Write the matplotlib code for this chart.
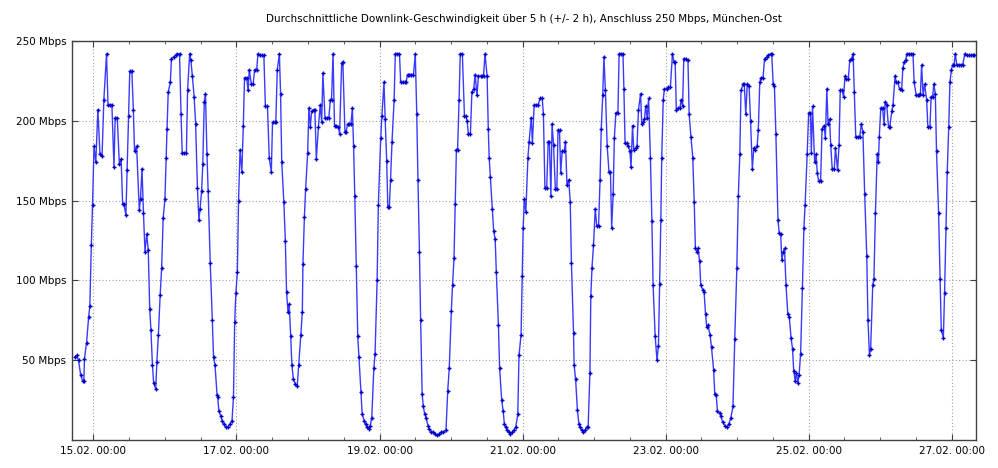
import numpy as np
import matplotlib
matplotlib.use("Agg")
from matplotlib import pyplot as plt
from matplotlib.ticker import MultipleLocator, FixedLocator

# hours since 15.02. 00:00
hours = [
    -6.3, -5.6, -5.0, -4.3, -3.6, -3.2, -3.0, -2.3, -1.6, -1.2, -0.7, -0.3, 0.2, 0.8, 1.5, 2.2, 2.9, 3.5, 4.4, 4.9,
    5.5, 6.2, 6.9, 7.3, 8.0, 8.7, 9.3, 9.8, 10.2, 10.9, 11.3, 11.8, 12.2, 12.9, 13.4, 13.8, 14.5, 15.4, 15.8, 16.3,
    16.8, 17.3, 17.9, 18.4, 18.9, 19.3, 19.8, 20.2, 20.9, 21.3, 21.8, 22.4, 22.9, 23.4, 24.0, 24.4, 24.7, 25.1, 25.8, 26.2,
    26.9, 27.6, 28.2, 28.9, 29.4, 29.8, 30.5, 31.2, 31.6, 32.3, 32.7, 33.2, 33.8, 34.3, 34.9, 35.4, 35.8, 36.3, 36.7, 37.2,
    37.6, 38.1, 38.5, 39.2, 39.9, 40.3, 40.8, 41.5, 41.7, 42.1, 42.8, 43.2, 43.7, 44.5, 45.2, 45.8, 46.5, 47.0, 47.4, 47.8,
    48.3, 48.7, 49.2, 49.8, 50.3, 50.7, 51.4, 51.9, 52.3, 53.0, 53.6, 54.1, 54.8, 55.2, 55.9, 56.6, 57.2, 57.7, 58.4, 59.0,
    59.7, 60.1, 60.8, 61.2, 61.7, 62.4, 62.8, 63.2, 63.9, 64.4, 64.8, 65.3, 65.7, 66.2, 66.6, 67.1, 67.8, 68.4, 68.9, 69.6,
    70.1, 70.3, 70.8, 71.2, 71.9, 72.3, 72.8, 73.2, 73.9, 74.3, 74.8, 75.5, 76.1, 76.6, 77.0, 77.7, 78.4, 79.0, 79.5, 79.9,
    80.4, 80.9, 81.5, 82.2, 82.6, 83.3, 83.7, 84.4, 84.8, 85.3, 85.9, 86.4, 86.9, 87.3, 87.7, 88.2, 88.7, 89.1, 89.8, 90.2,
    90.9, 91.3, 91.8, 92.5, 92.9, 93.4, 94.1, 94.5, 95.2, 95.6, 96.4, 96.8, 97.5, 97.9, 98.4, 98.8, 99.3, 99.7, 100.2, 100.9,
    101.3, 102.0, 102.7, 103.1, 103.8, 104.5, 104.9, 105.4, 106.0, 106.7, 107.4, 108.0, 108.5, 108.9, 109.4, 109.8, 110.3, 110.7, 111.2, 111.6,
    112.3, 112.7, 113.4, 114.1, 114.7, 115.4, 116.1, 116.7, 117.4, 118.3, 118.9, 119.4, 120.1, 120.5, 121.0, 121.4, 121.8, 122.2, 122.7, 123.1,
    123.8, 124.5, 124.9, 125.4, 125.8, 126.5, 127.0, 127.6, 128.1, 128.7, 129.2, 129.9, 130.5, 130.9, 131.4, 132.1, 132.5, 132.8, 133.2, 133.9,
    134.3, 134.8, 135.2, 135.9, 136.3, 137.0, 137.5, 137.9, 138.4, 138.8, 139.5, 139.9, 140.6, 141.0, 141.7, 142.4, 142.8, 143.5, 143.9, 144.2,
    144.6, 145.1, 145.8, 146.2, 146.9, 147.3, 147.9, 148.6, 149.2, 149.9, 150.6, 151.0, 151.5, 152.1, 152.6, 153.0, 153.5, 153.9, 154.4, 155.0,
    155.5, 155.9, 156.4, 156.8, 157.3, 158.0, 158.4, 158.9, 159.5, 160.0, 160.4, 161.1, 161.3, 161.8, 162.4, 162.9, 163.3, 164.0, 164.4, 164.9,
    165.5, 166.0, 166.6, 166.9, 167.3, 167.8, 168.4, 168.9, 169.5, 170.0, 170.4, 170.9, 171.3, 171.8, 172.4, 173.0, 173.5, 173.9, 174.4, 174.8,
    175.3, 176.0, 176.4, 177.1, 177.7, 178.0, 178.4, 178.9, 179.5, 180.0, 180.4, 180.9, 181.3, 182.0, 182.4, 182.9, 183.6, 184.0, 184.5, 184.9,
    185.3, 185.8, 186.3, 186.9, 187.4, 187.8, 188.5, 189.1, 189.6, 190.0, 190.4, 190.7, 191.2, 191.6, 192.3, 192.9, 193.6, 194.3, 194.8, 195.2,
    195.6, 196.3, 196.8, 197.2, 197.7, 198.1, 198.8, 199.5, 199.9, 200.5, 201.1, 201.6, 202.0, 202.5, 202.9, 203.4, 203.8, 204.5, 204.9, 205.4,
    205.8, 206.2, 206.9, 207.4, 208.1, 208.5, 209.0, 209.4, 210.1, 210.5, 211.2, 211.9, 212.6, 213.2, 213.9, 214.6, 215.2, 215.9, 216.4, 216.9,
    217.3, 218.0, 218.4, 218.9, 219.4, 220.0, 220.5, 221.1, 221.6, 222.0, 222.7, 223.1, 223.6, 224.0, 224.7, 225.2, 225.9, 226.5, 227.2, 227.6,
    228.1, 228.5, 229.0, 229.7, 230.1, 230.6, 231.0, 231.5, 231.9, 232.4, 233.0, 233.5, 234.1, 234.6, 235.0, 235.5, 235.9, 236.4, 236.8, 237.3,
    237.9, 238.4, 238.8, 239.5, 240.0, 240.6, 240.9, 241.3, 242.0, 242.5, 242.9, 243.4, 244.0, 244.5, 245.2, 245.6, 246.1, 246.5, 247.0, 247.4,
    247.9, 248.6, 249.0, 249.7, 250.2, 250.6, 251.3, 251.7, 252.2, 252.6, 253.3, 253.8, 254.4, 254.9, 255.3, 255.8, 256.4, 257.1, 257.7, 258.2,
    258.8, 259.5, 259.9, 260.4, 260.8, 261.5, 261.9, 262.4, 263.0, 263.4, 263.7, 264.2, 264.8, 265.3, 265.7, 266.2, 266.8, 267.2, 267.9, 268.3,
    269.0, 269.4, 269.9, 270.5, 271.2, 271.6, 272.1, 272.5, 273.0, 273.6, 274.3, 275.0, 275.4, 276.1, 276.6, 277.1, 277.5, 277.9, 278.4, 278.9,
    279.6, 280.0, 280.7, 281.1, 281.6, 282.0, 282.5, 282.9, 283.6, 284.1, 284.5, 285.2, 285.6, 286.1, 286.5, 287.0, 287.4, 287.9, 288.3, 288.8,
    289.2, 289.7, 290.4, 291.0, 291.7, 292.4, 293.0, 293.7, 294.4, 295.0, 295.5,
]

# average downlink speed in Mbps
mbps = [
    52, 53, 50, 41, 37, 37, 51, 61, 77, 84, 122, 147, 184, 174, 207, 179, 178, 213, 242, 210,
    210, 210, 171, 202, 202, 173, 176, 148, 148, 141, 169, 203, 231, 231, 207, 181, 184, 144, 151, 170,
    142, 118, 129, 119, 82, 69, 47, 36, 32, 49, 66, 91, 108, 139, 151, 177, 195, 218, 224, 239,
    240, 241, 242, 242, 204, 180, 180, 180, 219, 242, 238, 228, 215, 198, 158, 138, 145, 156, 173, 212,
    217, 179, 156, 111, 75, 52, 47, 28, 27, 18, 15, 12, 10, 8, 8, 10, 12, 27, 74, 92,
    105, 150, 182, 168, 197, 227, 227, 219, 232, 223, 223, 232, 232, 242, 241, 241, 241, 209, 209, 177,
    168, 199, 199, 199, 232, 242, 217, 174, 149, 125, 93, 80, 85, 65, 47, 38, 35, 34, 47, 66,
    80, 110, 140, 157, 180, 208, 196, 206, 207, 207, 176, 196, 210, 199, 230, 202, 202, 202, 213, 213,
    242, 197, 197, 196, 192, 236, 237, 193, 193, 198, 198, 198, 208, 184, 153, 109, 65, 52, 30, 16,
    12, 10, 8, 7, 9, 14, 45, 54, 100, 147, 189, 203, 224, 201, 175, 146, 146, 163, 187, 213,
    242, 242, 242, 224, 224, 224, 224, 229, 229, 229, 229, 242, 204, 163, 118, 75, 29, 21, 16, 14,
    9, 7, 5, 5, 4, 3, 4, 5, 5, 6, 31, 45, 81, 97, 114, 148, 182, 182, 213, 242,
    242, 203, 203, 200, 192, 192, 218, 220, 229, 216, 228, 228, 228, 228, 242, 228, 195, 177, 165, 145,
    131, 126, 105, 72, 45, 25, 18, 10, 8, 6, 5, 4, 5, 6, 8, 16, 53, 66, 103, 133,
    151, 143, 177, 187, 202, 186, 210, 210, 210, 214, 214, 204, 158, 158, 187, 187, 153, 198, 185, 157,
    157, 194, 194, 167, 181, 181, 187, 160, 163, 149, 111, 67, 47, 38, 19, 10, 8, 6, 5, 6,
    8, 8, 42, 90, 108, 122, 145, 134, 134, 163, 195, 216, 240, 219, 184, 168, 168, 133, 154, 189,
    205, 205, 242, 242, 242, 220, 186, 186, 184, 181, 171, 197, 182, 183, 184, 207, 217, 198, 199, 201,
    209, 202, 214, 177, 137, 97, 65, 50, 59, 98, 138, 177, 213, 220, 220, 221, 221, 242, 237, 237,
    207, 208, 208, 213, 209, 239, 239, 238, 204, 190, 177, 149, 120, 118, 120, 112, 97, 94, 93, 79,
    71, 72, 66, 58, 44, 29, 28, 18, 17, 15, 11, 9, 8, 10, 14, 21, 63, 108, 153, 179,
    219, 223, 223, 204, 223, 222, 200, 170, 183, 182, 184, 194, 224, 227, 227, 239, 240, 241, 242, 242,
    223, 222, 192, 138, 130, 129, 113, 118, 120, 97, 79, 77, 64, 57, 43, 37, 42, 36, 41, 54,
    95, 133, 147, 179, 205, 205, 180, 209, 174, 179, 167, 162, 162, 195, 197, 189, 220, 198, 201, 185,
    170, 170, 183, 169, 185, 219, 219, 215, 228, 226, 226, 238, 239, 242, 218, 190, 190, 190, 198, 193,
    154, 115, 75, 53, 57, 97, 101, 142, 179, 174, 190, 208, 208, 198, 212, 210, 196, 196, 206, 210,
    228, 224, 224, 220, 219, 233, 237, 238, 242, 242, 242, 242, 224, 216, 216, 216, 217, 235, 216, 223,
    213, 196, 196, 215, 215, 223, 217, 181, 142, 101, 69, 64, 92, 133, 168, 196, 224, 232, 235, 235,
    242, 235, 235, 235, 235, 242, 241, 241, 241, 241, 241,
]

tick_labels = ["15.02. 00:00", "17.02. 00:00", "19.02. 00:00", "21.02. 00:00",
               "23.02. 00:00", "25.02. 00:00", "27.02. 00:00"]
y_ticks = [50, 100, 150, 200, 250]

title = "Durchschnittliche Downlink-Geschwindigkeit über 5 h (+/- 2 h), Anschluss 250 Mbps, München-Ost"

plt.rcParams['font.family'] = ['DejaVu Sans']

fig = plt.figure(figsize=(9.98, 4.68), dpi=100)
ax = fig.add_axes([0.0721, 0.0598, 0.906, 0.8526])

ax.plot(hours, mbps, color='#3a3aff', lw=1.0, marker='+', ms=3.5, mew=1.0,
        mec='#0000c8', zorder=3)

ax.set_xlim(-7.2, 296.2)
ax.set_ylim(0, 250)

ax.xaxis.set_major_locator(FixedLocator(np.arange(0, 289, 48)))
ax.set_xticklabels(tick_labels)
ax.xaxis.set_minor_locator(MultipleLocator(12))
ax.set_yticks(y_ticks)
ax.set_yticklabels([f"{v} Mbps" for v in y_ticks])

ax.grid(True, which='major', color='#a0a0a0', linestyle=(0, (1, 2)), lw=0.8)
ax.tick_params(which='both', direction='in', top=True, right=True,
               labelsize=7.5, color='#404040')
ax.tick_params(which='major', length=4, pad=4)
ax.tick_params(which='minor', length=2)
for s in ax.spines.values():
    s.set_color('#404040')
    s.set_linewidth(1.0)

fig.text(0.525, 0.959, title, ha='center', va='center', fontsize=7.5)

fig.savefig("out.png", dpi=100)
